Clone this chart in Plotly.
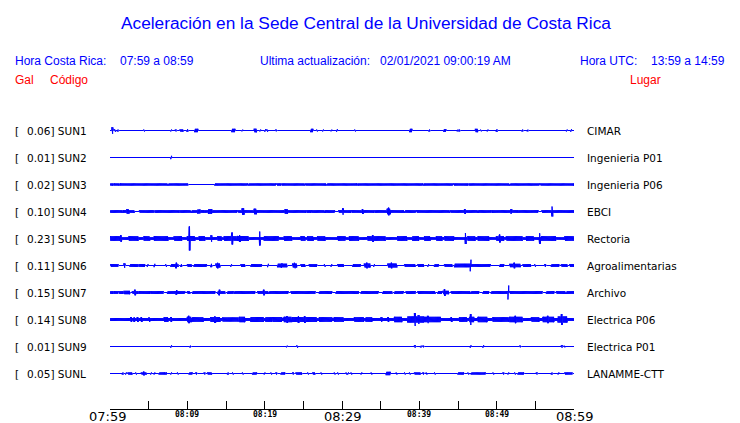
import numpy as np
import plotly.graph_objects as go

# ---------------- data ----------------
title_text = "Aceleración en la Sede Central de la Universidad de Costa Rica"
hora_cr = "07:59 a 08:59"
ultima = "02/01/2021 09:00:19 AM"
hora_utc = "13:59 a 14:59"

codes = ["SUN1", "SUN2", "SUN3", "SUN4", "SUN5", "SUN6", "SUN7", "SUN8", "SUN9", "SUNL"]
gal_values = ["0.06", "0.01", "0.02", "0.10", "0.23", "0.11", "0.15", "0.14", "0.01", "0.05"]
places = ["CIMAR", "Ingenieria P01", "Ingenieria P06", "EBCI", "Rectoria",
          "Agroalimentarias", "Archivo", "Electrica P06", "Electrica P01", "LANAMME-CTT"]

tick_minutes = list(range(0, 61, 5))
major_labels = {0: "07:59", 30: "08:29", 60: "08:59"}
minor_labels = {10: "08:09", 20: "08:19", 40: "08:39", 50: "08:49"}

# baseline half-amplitude of each trace (read in px of a 27px row)
base_half = [0, 0, 0, 0, 1.8, 0, 0, 2.0, 0, 0]

# bursts: (start minute, end minute, half-amplitude px)
sun1 = [(0.3, 0.3, 3.8), (0.65, 0.65, 1.8), (1.0, 1.0, 1.5), (4.4, 4.4, 1.5), (7.9, 7.9, 1.5),
        (8.5, 8.5, 1.5), (9.1, 9.4, 1.6), (10.0, 10.0, 1.8), (11.0, 11.3, 2.2), (15.8, 16.1, 2.2),
        (17.1, 17.1, 1.4), (18.7, 18.9, 2.3), (19.43, 19.43, 1.5), (20.08, 20.08, 1.8),
        (20.34, 20.34, 1.8), (21.46, 21.46, 1.4), (26.0, 26.2, 2.2), (26.77, 26.77, 1.5),
        (27.55, 27.55, 1.5), (28.63, 28.63, 1.4), (29.36, 29.36, 1.8), (31.7, 31.7, 1.5),
        (38.8, 39.0, 2.2), (41.28, 41.28, 1.5), (43.2, 43.4, 1.8), (44.95, 44.95, 1.5),
        (45.16, 45.16, 1.5), (47.3, 47.5, 2.2), (47.97, 47.97, 1.4), (48.83, 48.83, 1.5),
        (50.0, 50.0, 1.8), (53.32, 53.32, 1.5), (54.0, 54.0, 1.4), (59.07, 59.07, 1.5),
        (59.63, 59.63, 1.8)]
sun2 = [(7.9, 7.9, 2.2)]
sun3 = [(0, 0.35, 1.6), (0.55, 1.15, 1.6), (1.35, 3.85, 1.6), (4.0, 4.6, 1.6), (4.75, 7.4, 1.6),
        (7.6, 10.0, 1.6), (13.6, 17.75, 1.6), (17.95, 21.4, 1.6), (21.6, 22.05, 1.6),
        (22.25, 25.1, 1.6), (25.3, 26.15, 1.6), (26.35, 27.9, 1.6), (28.1, 30.3, 1.6),
        (30.45, 31.9, 1.6), (32.1, 34.85, 1.6), (35.0, 40.4, 1.6), (40.6, 41.7, 1.6),
        (41.9, 44.3, 1.6), (44.5, 46.25, 1.6), (46.45, 51.6, 1.6), (51.8, 55.5, 1.6),
        (55.7, 60, 1.6)]
sun4 = [(0, 1.55, 1.8), (1.75, 3.1, 1.8), (3.85, 5.65, 1.8), (5.85, 6.95, 1.8), (7.15, 8.9, 1.8),
        (9.1, 10.4, 1.8), (10.6, 12.1, 1.8), (12.3, 14.3, 1.8), (14.5, 16.4, 1.8), (16.6, 20.1, 1.8),
        (20.3, 23.6, 1.8), (23.8, 25.3, 1.8), (25.5, 25.9, 1.8), (26.1, 26.8, 1.8), (27.0, 27.7, 1.8),
        (27.9, 29.0, 1.8), (29.6, 31.1, 1.8), (31.3, 34.1, 1.8), (34.3, 38.0, 1.8), (38.2, 39.5, 1.8),
        (39.7, 43.2, 1.8), (43.4, 43.85, 1.8), (44.05, 47.5, 1.8), (47.7, 49.25, 1.8),
        (49.45, 52.7, 1.8), (52.9, 55.3, 1.8), (55.9, 56.4, 1.8), (56.6, 60, 1.8),
        (2.2, 2.4, 2.8), (11.4, 11.6, 2.5), (12.8, 13.1, 2.8), (17.1, 17.3, 3.8), (18.7, 18.9, 3.3),
        (22.7, 22.9, 2.8), (30.1, 30.1, 3.8), (32.7, 32.7, 3.0), (35.9, 36.2, 3.3), (36.05, 36.05, 4.3),
        (45.9, 45.9, 3.0), (51.9, 51.9, 3.0), (57.2, 57.2, 5.5)]
sun5 = [(0.13, 1.21, 2.8), (2.5, 3.58, 2.8), (4.45, 5.1, 2.8), (5.74, 7.47, 2.8), (8.33, 9.2, 2.8),
        (10.06, 10.92, 3.0), (11.57, 12.22, 2.8), (13.95, 14.38, 2.8), (14.81, 16.54, 2.8),
        (16.54, 17.83, 3.0), (19.99, 21.72, 2.8), (22.58, 23.45, 2.8), (24.74, 25.17, 2.8),
        (25.6, 26.25, 2.8), (26.9, 27.76, 2.8), (29.49, 30.35, 2.8), (31.0, 32.08, 2.8),
        (33.38, 35.54, 2.8), (37.26, 38.34, 2.8), (39.2, 39.85, 2.8), (40.72, 41.36, 2.8),
        (42.23, 42.88, 2.8), (43.31, 44.39, 2.8), (46.33, 47.19, 2.8), (47.63, 48.92, 2.8),
        (50.0, 50.86, 2.8), (51.3, 53.24, 2.8), (53.89, 54.75, 2.8), (55.83, 57.56, 2.8),
        (58.85, 60, 2.8),
        (10.3, 10.3, 12.5), (15.8, 15.8, 6.5), (16.8, 16.8, 4.0), (19.4, 19.4, 7.5), (1.4, 1.4, 3.8),
        (13.1, 13.1, 3.8), (34.0, 34.0, 4.0), (46.0, 46.0, 6.0), (50.4, 50.4, 4.5), (55.6, 55.6, 5.8)]
sun6 = [(0.13, 0.99, 1.9), (1.86, 1.86, 2.8), (2.63, 3.58, 1.9), (3.8, 4.45, 1.9), (4.88, 4.88, 1.9),
        (5.74, 5.74, 2.2), (7.25, 7.25, 1.9), (7.9, 8.77, 1.9), (8.55, 8.55, 3.3), (9.2, 9.2, 1.9),
        (10.06, 10.49, 1.9), (10.92, 12.44, 1.9), (13.08, 13.08, 2.2), (13.73, 14.16, 2.5),
        (13.95, 13.95, 3.3), (15.67, 15.67, 1.9), (16.97, 17.4, 1.9), (18.26, 19.56, 1.9),
        (20.42, 20.42, 2.2), (21.72, 22.8, 2.3), (22.2, 22.2, 3.0), (23.66, 24.09, 2.5),
        (23.9, 23.9, 3.3), (24.74, 25.17, 1.9), (25.82, 26.68, 1.9), (27.76, 27.76, 1.9),
        (28.63, 28.63, 1.9), (29.49, 30.14, 1.9), (31.43, 32.3, 1.9), (32.94, 33.59, 2.5),
        (33.2, 33.2, 3.3), (34.15, 34.15, 1.9), (35.97, 37.05, 2.5), (36.4, 36.4, 3.3),
        (38.13, 39.42, 1.9), (39.85, 40.5, 1.9), (41.15, 41.15, 1.9), (42.0, 42.44, 1.9),
        (43.3, 44.17, 1.9), (44.6, 46.55, 2.3), (46.63, 46.63, 6.3), (46.76, 49.14, 1.9),
        (50.43, 50.86, 1.9), (51.73, 53.02, 2.2), (52.3, 52.3, 3.3), (53.45, 54.32, 1.9),
        (54.97, 54.97, 1.9), (56.26, 56.26, 1.9), (57.12, 57.99, 1.9), (58.42, 59.07, 1.9),
        (59.5, 60, 1.9)]
sun7 = [(0, 0.35, 1.9), (0.56, 0.99, 1.9), (1.21, 1.64, 1.9), (1.86, 2.5, 2.2), (2.94, 3.58, 1.9),
        (3.24, 3.24, 3.3), (3.8, 5.1, 1.9), (5.31, 6.82, 1.9), (7.47, 9.63, 1.9), (8.6, 8.6, 2.8),
        (10.06, 10.28, 1.9), (10.71, 13.51, 1.9), (13.95, 14.81, 1.9), (14.16, 14.16, 3.3),
        (15.24, 15.89, 1.9), (16.1, 18.7, 1.9), (19.13, 20.42, 1.9), (19.9, 19.9, 3.3),
        (20.64, 23.01, 1.9), (23.45, 26.47, 1.9), (27.12, 28.63, 1.9), (29.27, 32.08, 1.9),
        (32.51, 34.67, 1.9), (35.32, 36.4, 1.9), (36.83, 37.91, 1.9), (38.34, 39.42, 1.9),
        (39.85, 42.01, 1.9), (42.44, 42.88, 1.9), (43.09, 43.74, 2.2), (43.3, 43.3, 4.0),
        (44.17, 46.55, 1.9), (46.76, 47.63, 1.9), (48.27, 48.92, 1.9), (49.35, 51.3, 1.9),
        (51.51, 51.51, 7.5), (51.73, 55.83, 1.9), (56.48, 57.34, 1.9), (57.77, 58.85, 1.9),
        (59.07, 60, 1.9)]
sun8 = [(2.72, 2.72, 3), (3.15, 3.15, 3), (3.58, 3.58, 3), (4.1, 4.1, 3), (5.1, 5.1, 3),
        (7.04, 7.47, 2.8), (7.9, 7.9, 3), (10.06, 10.49, 3.2), (10.2, 10.2, 4.2), (10.71, 12.0, 2.8),
        (13.08, 14.16, 3.0), (13.6, 13.6, 4.0), (14.59, 16.54, 2.6), (16.75, 17.4, 3.2),
        (18.26, 19.78, 3.0), (20.2, 20.85, 2.8), (21.07, 22.15, 3.0), (22.58, 23.45, 3.2),
        (22.9, 22.9, 4.0), (23.66, 26.68, 3.0), (24.4, 24.4, 4.0), (25.2, 25.2, 4.0),
        (27.12, 28.63, 2.8), (29.06, 30.14, 2.8), (31.65, 32.73, 2.8), (33.16, 33.81, 2.8),
        (35.1, 35.1, 3), (35.97, 35.97, 3), (36.83, 37.69, 3.2), (38.56, 40.5, 3.6),
        (39.42, 39.42, 7), (39.9, 39.9, 5), (40.72, 42.66, 3.2), (41.1, 41.1, 4.2), (44.17, 44.17, 3),
        (45.25, 46.11, 2.8), (46.55, 46.98, 3.2), (46.63, 46.63, 6), (47.63, 48.7, 3.2),
        (49.57, 51.51, 2.8), (51.73, 53.24, 3.2), (52.4, 52.4, 4.2), (54.53, 55.4, 2.8),
        (56.04, 57.34, 3.2), (56.6, 56.6, 4.2), (57.99, 59.07, 3.6), (58.42, 58.42, 6)]
sun9 = [(7.9, 7.9, 1.8), (10.36, 10.36, 1.4), (22.88, 22.88, 1.4), (24.22, 24.22, 1.8),
        (39.42, 39.42, 1.8), (40.2, 40.2, 1.4), (40.5, 40.5, 1.4), (46.63, 46.63, 1.8),
        (48.27, 48.27, 1.8), (53.02, 53.02, 1.4), (58.42, 58.42, 1.8), (58.77, 58.77, 1.4)]
sunl = [(1.64, 1.64, 1.6), (2.07, 2.07, 1.6), (2.37, 2.81, 1.6), (3.37, 3.37, 1.6), (4.1, 4.66, 1.6),
        (4.38, 4.38, 2.4), (5.31, 5.31, 1.6), (5.74, 5.74, 1.6), (6.39, 7.04, 1.6), (7.25, 7.25, 1.6),
        (7.9, 7.9, 1.6), (8.77, 8.77, 1.6), (10.28, 10.58, 1.6), (11.14, 11.14, 1.6),
        (12.22, 12.22, 1.6), (12.65, 13.08, 1.6), (15.24, 15.24, 1.6), (15.89, 15.89, 1.6),
        (17.18, 17.18, 1.6), (18.48, 18.91, 1.6), (19.99, 19.99, 1.6), (20.85, 20.85, 1.6),
        (21.5, 21.5, 1.6), (22.15, 22.58, 1.6), (23.66, 23.66, 1.6), (24.09, 24.74, 1.6),
        (25.6, 25.6, 1.6), (26.25, 26.47, 1.6), (27.33, 27.33, 1.6), (29.06, 29.06, 1.6),
        (29.49, 29.49, 1.6), (30.57, 30.57, 1.6), (30.79, 30.79, 1.6), (31.22, 31.22, 1.6),
        (32.51, 32.51, 1.6), (33.81, 33.81, 1.6), (35.75, 36.18, 2.2), (37.05, 37.05, 1.6),
        (38.13, 38.13, 1.6), (38.77, 38.77, 1.6), (39.42, 40.07, 1.6), (40.5, 40.5, 1.6),
        (40.93, 40.93, 1.6), (42.01, 42.01, 1.6), (45.03, 45.68, 1.6), (46.33, 46.33, 1.6),
        (46.76, 48.49, 1.6), (49.57, 49.57, 1.6), (50.86, 50.86, 1.6), (51.51, 51.51, 1.6),
        (52.37, 52.37, 1.6), (52.8, 53.45, 1.6), (55.18, 55.18, 1.6), (57.12, 57.12, 1.6),
        (57.99, 57.99, 1.6), (58.85, 59.71, 1.6)]

bursts = [sun1, sun2, sun3, sun4, sun5, sun6, sun7, sun8, sun9, sunl]

# ---------------- layout constants (styling) ----------------
W, H = 740, 423
ML, MR, MT, MB = 110, 166, 110, 14
PW, PH = W - ML - MR, H - MT - MB
ROW_PX = 27.0
TOP_PAD = 20.5  # px from plot top to first row
LINE_W = 1.0
y_top = TOP_PAD / ROW_PX
y_bot = y_top - PH / ROW_PX
BLUE = "#0000ff"
RED = "#ff0000"


def px_x(px):
    return (px - ML) / PW


def px_y(py):
    return (H - MB - py) / PH


fig = go.Figure()

t = np.arange(0, 60.0001, 0.02)
sign = np.where(np.arange(t.size) % 2 == 0, 1.0, -1.0)
half_w = 0.06
for i, segs in enumerate(bursts):
    env = np.full(t.size, float(base_half[i]))
    for (a, b, amp) in segs:
        m = (t >= a - half_w) & (t <= b + half_w)
        env[m] = np.maximum(env[m], amp)
    # account for the stroke width: the drawn extent is the envelope
    env = np.maximum(env - LINE_W / 2, 0)
    y = -i + sign * env / ROW_PX
    fig.add_trace(go.Scatter(x=t, y=y, mode="lines", line=dict(color=BLUE, width=LINE_W),
                             hoverinfo="skip", showlegend=False))

ann = []
lab_font = dict(family="DejaVu Sans", size=10.5, color="black")
for i in range(len(codes)):
    ann.append(dict(x=px_x(13), y=-i, xref="paper", yref="y", text="[", showarrow=False,
                    xanchor="left", yanchor="middle", font=lab_font))
    ann.append(dict(x=px_x(25), y=-i, xref="paper", yref="y", text=f"{gal_values[i]}] {codes[i]}",
                    showarrow=False, xanchor="left", yanchor="middle", font=lab_font))
    ann.append(dict(x=px_x(585), y=-i, xref="paper", yref="y", text=places[i], showarrow=False,
                    xanchor="left", yanchor="middle", font=lab_font))

hdr = dict(family="Liberation Sans", size=12, color=BLUE)
red = dict(family="Liberation Sans", size=12, color=RED)
ann += [
    dict(x=px_x(366), y=px_y(23), text=title_text, xanchor="center",
         font=dict(family="Liberation Sans", size=17.3, color=BLUE)),
    dict(x=px_x(13), y=px_y(61), text="Hora Costa Rica:", xanchor="left", font=hdr),
    dict(x=px_x(118), y=px_y(61), text=hora_cr, xanchor="left", font=hdr),
    dict(x=px_x(258), y=px_y(61), text="Ultima actualización:", xanchor="left", font=hdr),
    dict(x=px_x(378), y=px_y(61), text=ultima, xanchor="left", font=hdr),
    dict(x=px_x(578), y=px_y(61), text="Hora UTC:", xanchor="left", font=hdr),
    dict(x=px_x(649), y=px_y(61), text=hora_utc, xanchor="left", font=hdr),
    dict(x=px_x(13), y=px_y(80), text="Gal", xanchor="left", font=red),
    dict(x=px_x(48), y=px_y(80), text="Código", xanchor="left", font=red),
    dict(x=px_x(628), y=px_y(80), text="Lugar", xanchor="left", font=red),
]
for a in ann[-10:]:
    a.update(xref="paper", yref="paper", showarrow=False, yanchor="middle")

for m, lab in major_labels.items():
    ann.append(dict(x=m, y=px_y(416), xref="x", yref="paper", text=lab, showarrow=False,
                    xanchor="center", yanchor="middle", xshift=-3 if m == 0 else 0,
                    font=dict(family="DejaVu Sans", size=13, color="black")))
for m, lab in minor_labels.items():
    ann.append(dict(x=m, y=px_y(414.5), xref="x", yref="paper", text=lab, showarrow=False,
                    xanchor="center", yanchor="middle",
                    font=dict(family="DejaVu Sans Mono", size=8, color="black", weight="bold")))

fig.update_layout(
    width=W, height=H, autosize=False,
    margin=dict(l=ML, r=MR, t=MT, b=MB, pad=0),
    paper_bgcolor="white", plot_bgcolor="white",
    annotations=ann,
    xaxis=dict(range=[0, 60], showgrid=False, zeroline=False, showline=True, linecolor="black",
               linewidth=1, ticks="inside", ticklen=8, tickwidth=1, tickcolor="black",
               tickvals=tick_minutes, showticklabels=False, fixedrange=True),
    yaxis=dict(range=[y_bot, y_top], showgrid=False, zeroline=False, showline=False,
               showticklabels=False, ticks="", fixedrange=True),
)

fig.write_html("out.html", config={"displayModeBar": False},
               post_script="document.body.style.margin='0';document.body.style.padding='0';")
